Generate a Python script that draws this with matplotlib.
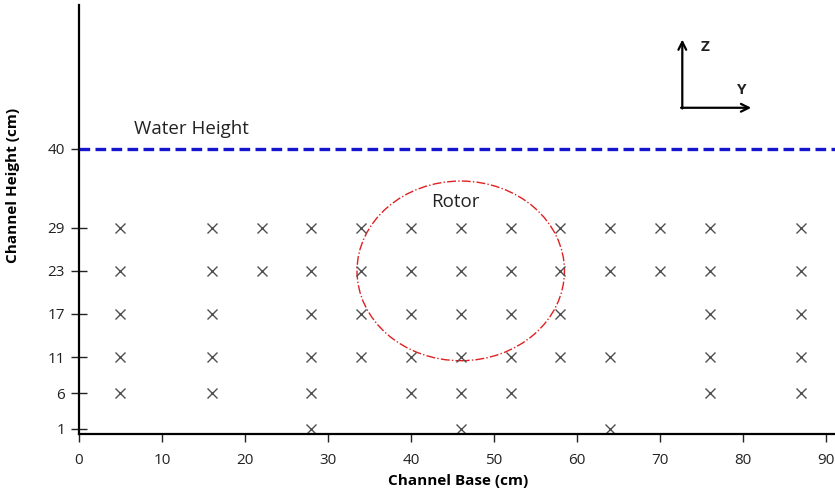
import numpy as np
import matplotlib.pyplot as plt
from matplotlib.patches import Ellipse

plt.rcParams['font.family'] = ['Open Sans', 'DejaVu Sans']

# measurement grid (cm)
row_29 = [5, 16, 22, 28, 34, 40, 46, 52, 58, 64, 70, 76, 87]
row_23 = [5, 16, 22, 28, 34, 40, 46, 52, 58, 64, 70, 76, 87]
row_17 = [5, 16, 28, 34, 40, 46, 52, 58, 76, 87]
row_11 = [5, 16, 28, 34, 40, 46, 52, 58, 64, 76, 87]
row_6 = [5, 16, 28, 40, 46, 52, 76, 87]
row_1 = [28, 46, 64]
heights = [29, 23, 17, 11, 6, 1]
rows = [row_29, row_23, row_17, row_11, row_6, row_1]

water_height = 40
rotor_center = (46, 23)
rotor_diameter = 25

xticks = [0, 10, 20, 30, 40, 50, 60, 70, 80, 90]
yticks = [1, 6, 11, 17, 23, 29, 40]

fig = plt.figure(figsize=(8.35, 4.92), dpi=100)
ax = fig.add_axes([0.0946, 0.1179, 0.9054, 0.8719])

for h, xs in zip(heights, rows):
    ax.plot(xs, [h] * len(xs), 'x', color='#505050', markersize=7, markeredgewidth=1.0)

ax.axhline(water_height, color='#1515d0', linestyle=(0, (3.2, 1.6)), linewidth=2.4)
ax.text(6.6, 42.8, 'Water Height', fontsize=13.5, color='#222222', va='center', ha='left')

rotor = Ellipse(rotor_center, rotor_diameter, rotor_diameter, fill=False,
                edgecolor='#e02020', linestyle='-.', linewidth=1.0)
ax.add_patch(rotor)
ax.text(45.3, 32.6, 'Rotor', fontsize=13.5, color='#222222', ha='center', va='center')

# coordinate arrows
ax.annotate('', xy=(72.7, 55.2), xytext=(72.7, 45.6),
            arrowprops=dict(arrowstyle='->', color='black', lw=1.6, shrinkA=0, shrinkB=0,
                            mutation_scale=14))
ax.annotate('', xy=(81.0, 45.7), xytext=(72.55, 45.7),
            arrowprops=dict(arrowstyle='->', color='black', lw=1.6, shrinkA=0, shrinkB=0,
                            mutation_scale=14))
ax.text(75.4, 54.2, 'Z', fontsize=11, fontweight='bold', color='#222222', ha='center', va='center')
ax.text(79.9, 48.2, 'Y', fontsize=11, fontweight='bold', color='#222222', ha='center', va='center')

ax.set_xlim(0, 91.1)
ax.set_ylim(0.3, 60)
ax.set_xticks(xticks)
ax.set_yticks(yticks)
ax.tick_params(axis='x', direction='out', length=6, width=1, labelsize=11, pad=8, colors='#222222')
ax.tick_params(axis='y', direction='inout', length=12, width=1, labelsize=11, pad=4, colors='#222222')
ax.spines['top'].set_visible(False)
ax.spines['right'].set_visible(False)
ax.spines['left'].set_linewidth(1.6)
ax.spines['bottom'].set_linewidth(1.6)

ax.set_xlabel('Channel Base (cm)', fontsize=11, fontweight='bold')
ax.set_ylabel('Channel Height (cm)', fontsize=11, fontweight='bold')
ax.xaxis.set_label_coords(0.501, -0.094)
ax.yaxis.set_label_coords(-0.078, 0.58)

fig.savefig('out.png', dpi=100)
